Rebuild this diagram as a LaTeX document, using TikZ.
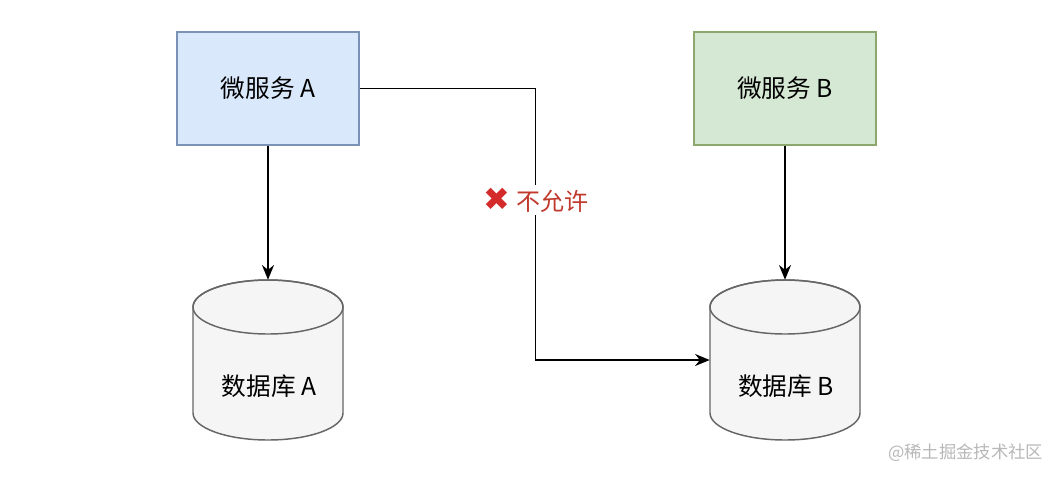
\documentclass[tikz,border=0pt]{standalone}
\usepackage{fontspec}
\setmainfont{Noto Sans CJK SC}
\newfontfamily\symfont{DejaVu Sans}
\usetikzlibrary{arrows.meta}
\definecolor{blueFill}{HTML}{DAE8FC}
\definecolor{blueLine}{HTML}{7A92B5}
\definecolor{greenFill}{HTML}{D5E8D4}
\definecolor{greenLine}{HTML}{8CA86F}
\definecolor{dbFill}{HTML}{F5F5F5}
\definecolor{dbLine}{HTML}{666666}
\definecolor{denyRed}{HTML}{D42A2A}
\definecolor{denyText}{HTML}{C0392B}
\definecolor{markGray}{HTML}{B8B8B8}
\tikzset{
  svc/.style={draw, line width=1.1pt, minimum width=136.5pt, minimum height=84.75pt, inner sep=0pt, font=\fontsize{18.5}{22}\selectfont},
  dbshape/.style={fill=dbFill, draw=dbLine, line width=1.1pt},
  dbanchor/.style={minimum width=112.5pt, minimum height=120pt, inner sep=0pt},
  dbtext/.style={font=\fontsize{18.5}{22}\selectfont},
  conn/.style={line width=1.1pt, -{Stealth[length=11pt,width=9pt]}},
}
\begin{document}
\begin{tikzpicture}[x=0.75pt,y=-0.75pt]
\useasboundingbox (0,0) rectangle (1064,480);
\fill[white] (0,0) rectangle (1064,480);
% services
\node[svc, fill=blueFill, draw=blueLine] (A) at (268,88.5) {微服务 A};
\node[svc, fill=greenFill, draw=greenLine] (B) at (785,88.5) {微服务 B};
% cylinders
\foreach \cx in {268,785}{
  \path[dbshape] (\cx-75,307) -- (\cx-75,413) arc[start angle=180, end angle=360, x radius=75, y radius=-27] -- (\cx+75,307) arc[start angle=0, end angle=180, x radius=75, y radius=-27] -- cycle;
  \draw[dbLine, line width=1.1pt] (\cx,307) ellipse[x radius=75, y radius=27];
}
\node[dbanchor] (dbA) at (268,360) {};
\node[dbanchor] (dbB) at (785,360) {};
\node[dbtext] (dbAlabel) at (269,386) {数据库 A};
\node[dbtext] (dbBlabel) at (786,386) {数据库 B};
% connectors
\draw[conn] (A.south) -- (dbA.north);
\draw[conn] (B.south) -- (dbB.north);
\draw[conn] (A.east) -- ++(176,0) |- (dbB.west);
\node[fill=white, inner sep=2pt, font=\fontsize{18}{22}\selectfont] (deny) at (536,200)
  {{\symfont\color{denyRed}\fontsize{24}{24}\selectfont ✖}\hspace{5pt}\textcolor{denyText}{不允许}};
% watermark
\node[text=markGray, font=\fontsize{13}{16}\selectfont, anchor=east] (mark) at (1048,453) {@稀土掘金技术社区};
\end{tikzpicture}
\end{document}
